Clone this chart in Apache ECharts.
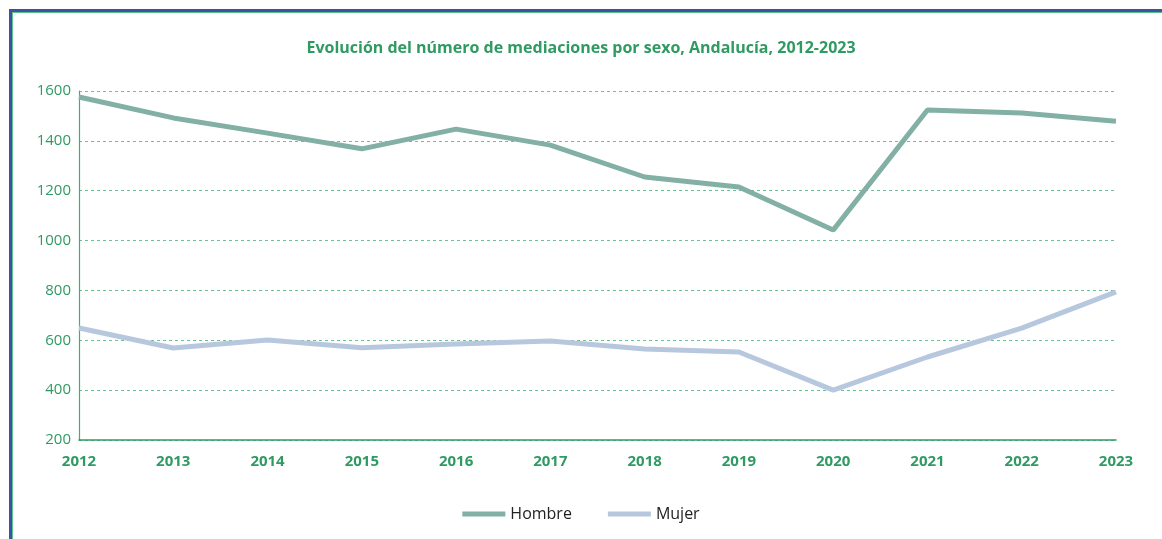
<!DOCTYPE html>
<html>
<head>
<meta charset="utf-8">
<script src="https://cdn.jsdelivr.net/npm/echarts@6/dist/echarts.min.js"></script>
<style>
  html, body { margin: 0; padding: 0; background: #fff; }
  #frame {
    position: absolute; left: 9px; top: 9px; width: 1160px; height: 540px;
    border-left: 3px solid #3c52a3; border-top: 3px solid #3c52a3;
  }
  #frameInner {
    position: absolute; left: 0; top: 0; right: 0; bottom: 0;
    border-left: 1px solid #5cc28a; border-top: 1px solid #5cc28a;
  }
  #chart { position: absolute; left: 0; top: 0; width: 1162px; height: 539px; }
</style>
</head>
<body>
<div id="frame"><div id="frameInner"></div></div>
<div id="chart"></div>
<script>
const years = ["2012", "2013", "2014", "2015", "2016", "2017", "2018", "2019", "2020", "2021", "2022", "2023"];
const hombre = [1576, 1492, 1431, 1368, 1447, 1383, 1255, 1215, 1042, 1524, 1512, 1479];
const mujer = [649, 569, 601, 570, 585, 597, 565, 553, 400, 533, 649, 794];

const green = "#2f9a62";
const font = "'Open Sans', 'Liberation Sans', sans-serif";

const chart = echarts.init(document.getElementById("chart"));
chart.setOption({
  animation: false,
  title: {
    text: "Evolución del número de mediaciones por sexo, Andalucía, 2012-2023",
    left: 576, top: 35, textAlign: "center",
    textStyle: { color: green, fontSize: 16, fontWeight: "bold", fontFamily: font }
  },
  grid: { left: 79, right: 46, top: 91, bottom: 99, containLabel: false },
  legend: {
    bottom: 12, left: "center",
    itemWidth: 43, itemHeight: 5, itemGap: 36,
    icon: "rect",
    textStyle: { color: "#222", fontSize: 16, fontFamily: font }
  },
  xAxis: {
    type: "category", data: years, boundaryGap: false,
    axisLine: { lineStyle: { color: green, width: 1.5 } },
    axisTick: { show: false },
    axisLabel: { color: green, fontWeight: "bold", fontSize: 15, margin: 14, fontFamily: font }
  },
  yAxis: {
    type: "value", min: 200, max: 1600, interval: 200,
    axisLine: { show: true, lineStyle: { color: "#3fae72", width: 1.2 } },
    axisTick: { show: false },
    axisLabel: { color: green, fontSize: 15, margin: 8, fontFamily: font, formatter: (v) => String(v) },
    splitLine: { lineStyle: { color: "#6cc095", type: [3, 3], width: 1 } }
  },
  series: [
    { name: "Hombre", type: "line", data: hombre, symbol: "none",
      lineStyle: { color: "#82b0a4", width: 5 }, itemStyle: { color: "#82b0a4" } },
    { name: "Mujer", type: "line", data: mujer, symbol: "none",
      lineStyle: { color: "#b7c8de", width: 5 }, itemStyle: { color: "#b7c8de" } }
  ]
});
</script>
</body>
</html>
